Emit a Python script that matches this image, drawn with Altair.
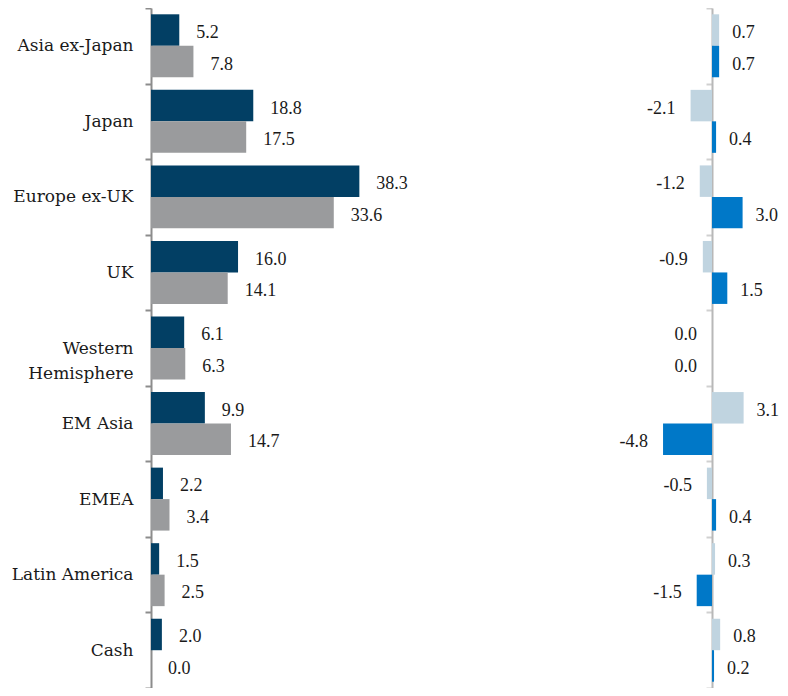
import altair as alt
import pandas as pd

categories = ["Asia ex-Japan", "Japan", "Europe ex-UK", "UK", "Western Hemisphere",
              "EM Asia", "EMEA", "Latin America", "Cash"]
left_a = [5.2, 18.8, 38.3, 16.0, 6.1, 9.9, 2.2, 1.5, 2.0]
left_b = [7.8, 17.5, 33.6, 14.1, 6.3, 14.7, 3.4, 2.5, 0.0]
right_a = [0.7, -2.1, -1.2, -0.9, 0.0, 3.1, -0.5, 0.3, 0.8]
right_b = [0.7, 0.4, 3.0, 1.5, 0.0, -4.8, 0.4, -1.5, 0.2]

def long(a, b):
    rows = []
    for c, va, vb in zip(categories, a, b):
        rows.append({"cat": c, "s": "a", "v": va, "lab": f"{va:.1f}"})
        rows.append({"cat": c, "s": "b", "v": vb, "lab": f"{vb:.1f}"})
    return pd.DataFrame(rows)

dl = long(left_a, left_b)
dr = long(right_a, right_b)

FONT = "Liberation Serif"
LABEL_FONT = "DejaVu Serif"
AXIS_GREY = "#8c8c8c"
H = 680
ZERO_R = 561
PX_R = 10.2

yscale = alt.Scale(domain=categories, paddingInner=0, paddingOuter=0)
yoff = alt.YOffset("s:N", scale=alt.Scale(domain=["a", "b"], paddingInner=0, paddingOuter=0.2))

left_x = alt.Scale(domain=[0, 40], range=[0, 217.6], nice=False, zero=True)
right_x = alt.Scale(domain=[-5, 3], range=[ZERO_R - 5 * PX_R, ZERO_R + 3 * PX_R], nice=False)

left_axis = alt.Axis(title=None, tickBand="extent", domainColor=AXIS_GREY, tickColor=AXIS_GREY,
                     tickSize=6, domainWidth=2, tickWidth=2, labelPadding=12, labelFont=LABEL_FONT,
                     labelFontSize=17, labelColor="#1a1a1a", labelLineHeight=25, labelLimit=200,
                     labelExpr="datum.value == 'Western Hemisphere' ? ['Western', 'Hemisphere'] : datum.value")
right_axis = alt.Axis(title=None, tickBand="extent", domainColor="#b8b8b8", tickColor="#d0d0d0",
                      tickSize=6, domainWidth=2, tickWidth=2, labels=False, orient="left", offset=-ZERO_R)

base_l = alt.Chart(dl)
bars_l = base_l.mark_bar().encode(
    y=alt.Y("cat:N", scale=yscale, sort=categories, axis=left_axis),
    yOffset=yoff,
    x=alt.X("v:Q", scale=left_x, axis=None),
    color=alt.Color("s:N", scale=alt.Scale(domain=["a", "b"], range=["#023f64", "#9a9b9d"]), legend=None),
)
text_l = base_l.mark_text(align="left", baseline="middle", dx=17, dy=3, font=FONT, fontSize=18,
                          color="#1a1a1a").encode(
    y=alt.Y("cat:N", scale=yscale, sort=categories, axis=left_axis),
    yOffset=yoff,
    x=alt.X("v:Q", scale=left_x, axis=None),
    text="lab:N",
)
left = alt.layer(bars_l, text_l)

base_r = alt.Chart(dr)
yr = alt.Y("cat:N", scale=yscale, sort=categories, axis=right_axis)
bars_r = base_r.mark_bar().encode(
    y=yr, yOffset=yoff,
    x=alt.X("v:Q", scale=right_x, axis=None),
    color=alt.Color("s:N", scale=alt.Scale(domain=["a", "b"], range=["#c0d4e0", "#0078c8"]), legend=None),
)
text_rp = base_r.transform_filter("datum.v > 0").mark_text(
    align="left", baseline="middle", dx=13, dy=3, font=FONT, fontSize=18, color="#1a1a1a").encode(
    y=yr, yOffset=yoff, x=alt.X("v:Q", scale=right_x, axis=None), text="lab:N")
text_rn = base_r.transform_filter("datum.v <= 0").mark_text(
    align="right", baseline="middle", dx=-15, dy=3, font=FONT, fontSize=18, color="#1a1a1a").encode(
    y=yr, yOffset=yoff, x=alt.X("v:Q", scale=right_x, axis=None), text="lab:N")
right = alt.layer(bars_r, text_rp, text_rn)

chart = alt.layer(left, right).resolve_scale(
    x="independent", y="independent", color="independent", yOffset="independent"
).resolve_axis(y="independent").properties(
    width=629, height=H,
    autosize=alt.AutoSizeParams(type="none"),
    padding={"left": 143, "top": 0, "right": 0, "bottom": 0},
).configure_view(stroke=None)

chart.save("out.html", embed_options={"renderer": "svg", "actions": False})
